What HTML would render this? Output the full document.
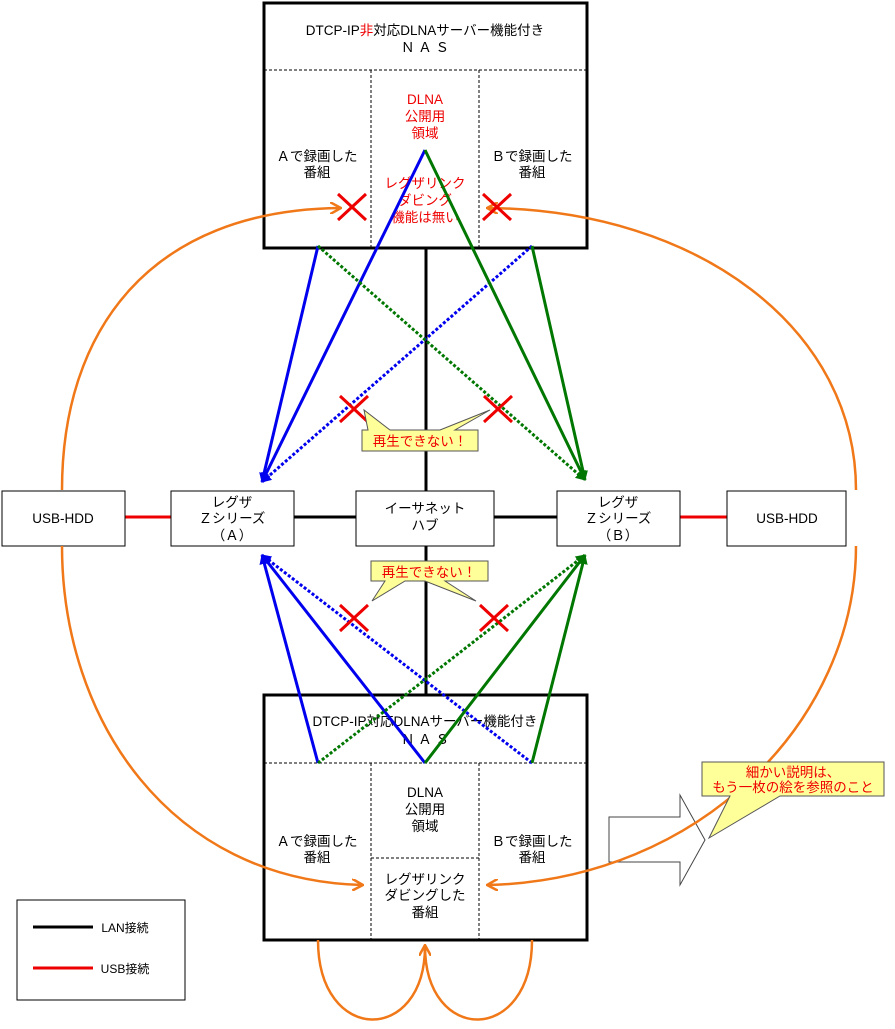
<!DOCTYPE html>
<html><head><meta charset="utf-8"><style>
body{margin:0;background:#fff}
svg text{font-family:"Liberation Sans","Noto Sans CJK JP",sans-serif;font-size:13.5px;text-anchor:middle}
</style></head><body>
<svg width="895" height="1024" viewBox="0 0 895 1024" xmlns="http://www.w3.org/2000/svg">
<defs>
<marker id="ab" markerWidth="10" markerHeight="10" refX="9" refY="5" orient="auto" markerUnits="userSpaceOnUse"><path d="M0,0 L10,5 L0,10 z" fill="#0000ee"/></marker>
<marker id="ag" markerWidth="10" markerHeight="10" refX="9" refY="5" orient="auto" markerUnits="userSpaceOnUse"><path d="M0,0 L10,5 L0,10 z" fill="#007700"/></marker>
<marker id="ao" markerWidth="12" markerHeight="12" refX="10" refY="6" orient="auto" markerUnits="userSpaceOnUse"><path d="M0,0 L11,6 L0,12" fill="none" stroke="#f07818" stroke-width="2.5"/></marker>
</defs>
<!-- black LAN lines -->
<g stroke="#000" stroke-width="3">
<line x1="426" y1="248" x2="426" y2="694"/>
<line x1="294" y1="517" x2="356" y2="517"/>
<line x1="494" y1="517" x2="557" y2="517"/>
</g>
<g stroke="#e00" stroke-width="3">
<line x1="125" y1="517" x2="171" y2="517"/>
<line x1="680" y1="517" x2="727" y2="517"/>
</g>
<!-- big arrow -->
<path d="M609 817 L680 817 L680 795 L705 840 L680 885 L680 862 L609 862 Z" fill="#fff" stroke="#444" stroke-width="1"/>
<!-- nodes -->
<g fill="#fff" stroke="#000" stroke-width="1">
<rect x="2" y="491" width="123" height="55"/>
<rect x="171" y="491" width="123" height="55"/>
<rect x="356" y="491" width="138" height="55"/>
<rect x="557" y="491" width="123" height="55"/>
<rect x="727" y="491" width="119" height="55"/>
</g>
<text x="63" y="523">USB-HDD</text>
<text x="787" y="523">USB-HDD</text>
<text x="232" y="507">レグザ</text><text x="232" y="523">Ｚシリーズ</text><text x="232" y="540">（Ａ）</text>
<text x="618" y="507">レグザ</text><text x="618" y="523">Ｚシリーズ</text><text x="618" y="540">（Ｂ）</text>
<text x="425" y="513">イーサネット</text><text x="425" y="530">ハブ</text>
<!-- top NAS -->
<rect x="264" y="3" width="323" height="245" fill="#fff" stroke="#000" stroke-width="3"/>
<g stroke="#000" stroke-dasharray="3,2" stroke-width="1">
<line x1="264" y1="70" x2="587" y2="70"/><line x1="371" y1="70" x2="371" y2="247"/><line x1="479" y1="70" x2="479" y2="247"/>
</g>
<text x="425" y="35">DTCP-IP<tspan fill="#e00">非</tspan>対応DLNAサーバー機能付き</text>
<text x="425" y="52">Ｎ Ａ Ｓ</text>
<text x="317" y="161">Ａで録画した</text><text x="317" y="177">番組</text>
<text x="532" y="161">Ｂで録画した</text><text x="532" y="177">番組</text>
<g fill="#e00"><text x="425" y="104">DLNA</text><text x="425" y="121">公開用</text><text x="425" y="138">領域</text>
<text x="425" y="188">レグザリンク</text><text x="425" y="205">ダビング</text><text x="425" y="222">機能は無い</text></g>
<!-- bottom NAS -->
<rect x="264" y="695" width="323" height="245" fill="#fff" stroke="#000" stroke-width="3"/>
<g stroke="#000" stroke-dasharray="3,2" stroke-width="1">
<line x1="264" y1="763" x2="587" y2="763"/><line x1="371" y1="763" x2="371" y2="939"/><line x1="479" y1="763" x2="479" y2="939"/><line x1="371" y1="858" x2="479" y2="858"/>
</g>
<text x="425" y="726">DTCP-IP対応DLNAサーバー機能付き</text>
<text x="425" y="744">Ｎ Ａ Ｓ</text>
<text x="317" y="846">Ａで録画した</text><text x="317" y="862">番組</text>
<text x="532" y="846">Ｂで録画した</text><text x="532" y="862">番組</text>
<text x="425" y="797">DLNA</text><text x="425" y="814">公開用</text><text x="425" y="831">領域</text>
<text x="425" y="884">レグザリンク</text><text x="425" y="900">ダビングした</text><text x="425" y="917">番組</text>
<!-- orange arcs -->
<g fill="none" stroke="#f07818" stroke-width="2.5">
<path d="M62 490 C62 330 150 210 340 208" marker-end="url(#ao)"/>
<path d="M62 546 C62 720 170 880 362 885" marker-end="url(#ao)"/>
<path d="M856 490 C856 330 700 210 488 208" marker-end="url(#ao)"/>
<path d="M856 546 C856 720 700 880 488 885" marker-end="url(#ao)"/>
<path d="M318 940 C318 1045 425 1045 425 946" marker-end="url(#ao)"/>
<path d="M532 940 C532 1045 425 1045 425 946"/>
</g>
<!-- connectors -->
<g fill="none" stroke-width="3">
<line x1="425" y1="150" x2="262" y2="482" stroke="#0000ee" marker-end="url(#ab)"/>
<line x1="318" y1="246" x2="262" y2="482" stroke="#0000ee" marker-end="url(#ab)"/>
<line x1="532" y1="246" x2="262" y2="482" stroke="#0000ee" stroke-dasharray="3,2" marker-end="url(#ab)"/>
<line x1="425" y1="150" x2="585" y2="480" stroke="#007700" marker-end="url(#ag)"/>
<line x1="532" y1="246" x2="585" y2="480" stroke="#007700" marker-end="url(#ag)"/>
<line x1="318" y1="246" x2="585" y2="480" stroke="#007700" stroke-dasharray="3,2" marker-end="url(#ag)"/>
<line x1="318" y1="763" x2="262" y2="555" stroke="#0000ee" marker-end="url(#ab)"/>
<line x1="425" y1="763" x2="262" y2="555" stroke="#0000ee" marker-end="url(#ab)"/>
<line x1="532" y1="763" x2="262" y2="555" stroke="#0000ee" stroke-dasharray="3,2" marker-end="url(#ab)"/>
<line x1="425" y1="763" x2="585" y2="555" stroke="#007700" marker-end="url(#ag)"/>
<line x1="532" y1="763" x2="585" y2="555" stroke="#007700" marker-end="url(#ag)"/>
<line x1="318" y1="763" x2="585" y2="555" stroke="#007700" stroke-dasharray="3,2" marker-end="url(#ag)"/>
</g>
<!-- red X -->
<g stroke="#e00" stroke-width="3">
<path d="M338 194 L366 220 M366 194 L338 220"/>
<path d="M483 194 L511 220 M511 194 L483 220"/>
<path d="M340 396 L368 422 M368 396 L340 422"/>
<path d="M484 396 L512 422 M512 396 L484 422"/>
<path d="M340 605 L368 631 M368 605 L340 631"/>
<path d="M480 605 L508 631 M508 605 L480 631"/>
</g>
<!-- callouts -->
<g fill="#ffff99" stroke="#555" stroke-width="1">
<path d="M362 430 L368 430 L364 410 L390 430 L440 430 L490 410 L455 430 L478 430 L478 451 L362 451 Z"/>
<path d="M371 561 L488 561 L488 581 L445 581 L476 601 L425 581 L405 581 L372 601 L385 581 L371 581 Z"/>
<path d="M702 762 L884 762 L884 796 L780 796 L709 838 L730 796 L702 796 Z"/>
</g>
<g fill="#e00"><text x="420" y="446">再生できない！</text><text x="429" y="577">再生できない！</text>
<text x="793" y="777">細かい説明は、</text><text x="793" y="792">もう一枚の絵を参照のこと</text></g>
<!-- legend -->
<rect x="17" y="900" width="168" height="100" fill="#fff" stroke="#000"/>
<line x1="33" y1="927" x2="93" y2="927" stroke="#000" stroke-width="3"/>
<line x1="33" y1="968" x2="93" y2="968" stroke="#e00" stroke-width="3"/>
<text x="125" y="932" style="font-size:12px">LAN接続</text>
<text x="125" y="973" style="font-size:12px">USB接続</text>
</svg>
</body></html>
